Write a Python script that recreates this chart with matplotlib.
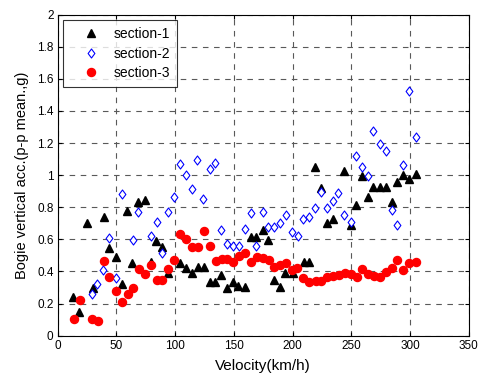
import matplotlib
matplotlib.use("Agg")
import matplotlib.pyplot as plt
from matplotlib.path import Path

plt.rcParams['font.family'] = ['Liberation Sans', 'DejaVu Sans']

# section-1 (black triangles)
s1_v = [13.3, 18.4, 24.7, 29.8, 39.4, 43.7, 49.4, 55, 59, 63.5, 68.7, 74.3, 79.2, 83.7, 88.5,
        94.2, 104.1, 109.3, 114.1, 119.8, 124.8, 129.7, 134, 138.8, 144.4, 149.6, 153.8, 159.5,
        164.5, 169.2, 174.6, 179.4, 184.2, 189.3, 193.6, 200.7, 209.8, 214.3, 219.1, 223.9,
        229.6, 234.7, 244, 249.6, 254.3, 259.4, 264, 268.8, 274.5, 279.6, 284.4, 289.2, 294.3,
        299.4, 304.9]
s1_a = [0.243, 0.15, 0.70, 0.295, 0.74, 0.545, 0.49, 0.32, 0.777, 0.45, 0.83, 0.845, 0.46,
        0.593, 0.553, 0.39, 0.45, 0.42, 0.39, 0.43, 0.43, 0.336, 0.336, 0.378, 0.295, 0.336,
        0.31, 0.305, 0.617, 0.617, 0.659, 0.596, 0.347, 0.305, 0.389, 0.389, 0.46, 0.46, 1.05,
        0.918, 0.704, 0.725, 1.023, 0.688, 0.817, 0.997, 0.866, 0.925, 0.928, 0.928, 0.835,
        0.96, 1.0, 0.975, 1.005]

# section-2 (blue diamonds)
s2_v = [29, 33.7, 38.9, 43.7, 49.7, 54.5, 63.8, 68.7, 79.4, 84.3, 89, 94.2, 99.3, 104.1, 109,
        114.1, 118.9, 124, 129.7, 134.2, 138.8, 143.9, 149.6, 154.4, 159.5, 164.5, 169.2,
        174.6, 179.4, 184.2, 189.3, 194.2, 199.3, 204.4, 209.2, 214.3, 219.1, 223.9, 229.6,
        234.2, 239, 244, 249.6, 254.3, 259.4, 264.5, 268.8, 274.5, 279.6, 284.4, 289.2, 293.8,
        299.4, 304.9]
s2_a = [0.26, 0.32, 0.41, 0.61, 0.357, 0.88, 0.596, 0.773, 0.621, 0.707, 0.513, 0.773, 0.862,
        1.068, 1.0, 0.912, 1.095, 0.85, 1.04, 1.074, 0.659, 0.571, 0.559, 0.559, 0.663, 0.762,
        0.56, 0.769, 0.679, 0.679, 0.704, 0.752, 0.648, 0.621, 0.727, 0.742, 0.794, 0.897,
        0.794, 0.841, 0.891, 0.752, 0.71, 1.117, 1.053, 0.997, 1.275, 1.194, 1.153, 0.783,
        0.69, 1.064, 1.525, 1.236]

# section-3 (red circles)
s3_v = [14, 19, 29.5, 34.6, 39.4, 44, 49.7, 54.5, 59.6, 64.4, 69.2, 74.3, 79.4, 84.3, 89.1,
        94.2, 99.3, 104.1, 109.3, 114.1, 119.2, 124.6, 129.7, 134.5, 139.7, 144.4, 149.6,
        154.7, 159.5, 164.6, 170, 175.1, 179.9, 184.2, 189.3, 194.2, 199.3, 203.5, 209.2,
        214.3, 219.7, 224.2, 229.6, 234.7, 239.5, 244.7, 249.5, 254.6, 259.4, 264.5, 269.4,
        274.5, 279.3, 284.4, 289.2, 294.3, 299.4, 304.9]
s3_a = [0.104, 0.222, 0.104, 0.093, 0.465, 0.368, 0.28, 0.208, 0.258, 0.30, 0.416, 0.384, 0.44,
        0.347, 0.347, 0.416, 0.472, 0.634, 0.60, 0.55, 0.55, 0.654, 0.561, 0.467, 0.476, 0.476,
        0.461, 0.497, 0.513, 0.458, 0.492, 0.482, 0.472, 0.426, 0.44, 0.455, 0.409, 0.42,
        0.358, 0.336, 0.34, 0.34, 0.368, 0.372, 0.378, 0.389, 0.386, 0.366, 0.414, 0.383,
        0.372, 0.364, 0.395, 0.42, 0.472, 0.409, 0.455, 0.461]

labels = ['section-1', 'section-2', 'section-3']
x_ticks = [0, 50, 100, 150, 200, 250, 300, 350]
y_ticks = [0, 0.2, 0.4, 0.6, 0.8, 1, 1.2, 1.4, 1.6, 1.8, 2]
y_ticklabels = ['0', '0.2', '0.4', '0.6', '0.8', '1', '1.2', '1.4', '1.6', '1.8', '2']

diamond = Path([(0, 1), (0.75, 0), (0, -1), (-0.75, 0), (0, 1)],
               [Path.MOVETO, Path.LINETO, Path.LINETO, Path.LINETO, Path.CLOSEPOLY])

fig = plt.figure(figsize=(4.81, 3.76), dpi=100)
ax = fig.add_axes([0.12, 0.1072, 0.8544, 0.8538])

ax.plot(s1_v, s1_a, linestyle='none', marker='^', color='black', markersize=6.3,
        label=labels[0])
ax.plot(s2_v, s2_a, linestyle='none', marker=diamond, markerfacecolor='white',
        markeredgecolor='blue', markeredgewidth=0.8, markersize=6.5, label=labels[1])
ax.plot(s3_v, s3_a, linestyle='none', marker='o', color='red', markersize=5.8,
        label=labels[2])

ax.set_xlim(0, 350)
ax.set_ylim(0, 2)
ax.set_xticks(x_ticks)
ax.set_yticks(y_ticks)
ax.set_yticklabels(y_ticklabels)
ax.tick_params(direction='in', top=True, right=True, labelsize=8.5, length=3, pad=3)
ax.grid(True, color='0.35', linestyle=(0, (5, 5)), linewidth=0.8)
ax.set_axisbelow(True)
for sp in ax.spines.values():
    sp.set_linewidth(0.8)

ax.set_xlabel('Velocity(km/h)', fontsize=11, labelpad=5)
ax.set_ylabel('Bogie vertical acc.(p-p mean.,g)', fontsize=10.5, labelpad=6)

leg = ax.legend(loc='upper left', fontsize=10, frameon=True, fancybox=False,
                edgecolor='black', borderaxespad=0.4, borderpad=0.5, handlelength=3.0,
                handletextpad=0.1, labelspacing=0.4, numpoints=1)
leg.get_frame().set_linewidth(0.8)

fig.savefig('out.png', dpi=100)
